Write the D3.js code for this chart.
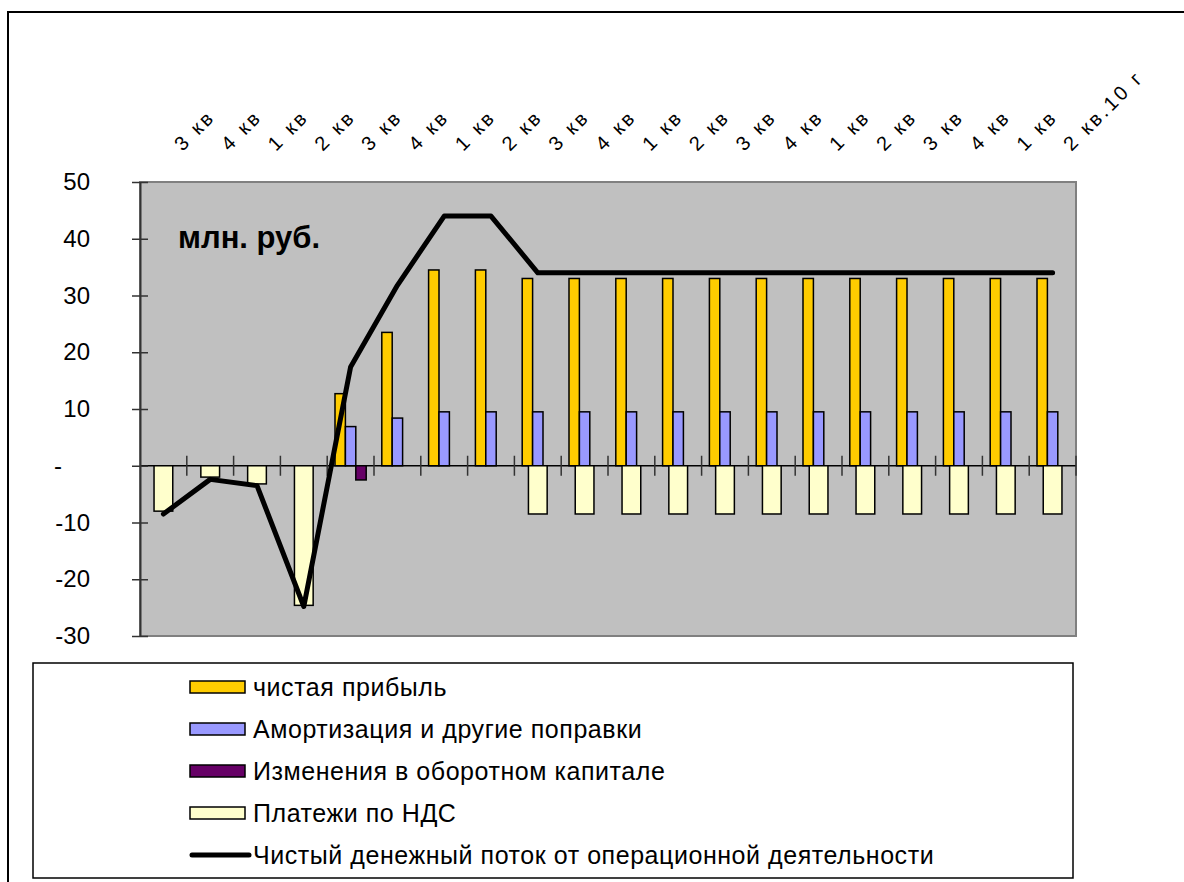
<!DOCTYPE html>
<html>
<head>
<meta charset="utf-8">
<script src="https://cdn.jsdelivr.net/npm/d3@7"></script>
<style>
  html, body { margin: 0; padding: 0; background: #fff; }
  svg { display: block; font-family: "Liberation Sans", Arial, sans-serif; }
</style>
</head>
<body>
<svg id="chart" width="1184" height="882"></svg>
<script>
// ---- data ----
const categories = ["3 кв","4 кв","1 кв","2 кв","3 кв","4 кв","1 кв","2 кв","3 кв","4 кв",
                    "1 кв","2 кв","3 кв","4 кв","1 кв","2 кв","3 кв","4 кв","1 кв","2 кв.10 г"];
const netProfit   = [0, 0, 0, 0, 12.7, 23.5, 34.5, 34.5, 33, 33, 33, 33, 33, 33, 33, 33, 33, 33, 33, 33];
const amortization = [null, null, null, null, 6.9, 8.4, 9.5, 9.5, 9.5, 9.5, 9.5, 9.5, 9.5, 9.5, 9.5, 9.5, 9.5, 9.5, 9.5, 9.5];
const workingCapital = [null, null, null, null, -2.5, null, null, null, null, null, null, null, null, null, null, null, null, null, null, null];
const vatPayments = [-8, -2, -3.2, -24.6, null, null, null, null, -8.5, -8.5, -8.5, -8.5, -8.5, -8.5, -8.5, -8.5, -8.5, -8.5, -8.5, -8.5];
const netCashFlow = [-8.5, -2.4, -3.5, -24.8, 17.4, 31.8, 44, 44, 34, 34, 34, 34, 34, 34, 34, 34, 34, 34, 34, 34];
const yTicks = [-30, -20, -10, 0, 10, 20, 30, 40, 50];
const seriesNames = ["чистая прибыль", "Амортизация и другие поправки", "Изменения в оборотном капитале",
                     "Платежи по НДС", "Чистый денежный поток от операционной деятельности"];
const seriesColors = ["#FFCC00", "#9999FF", "#660066", "#FFFFCC", "#000000"];

// ---- layout ----
const svg = d3.select("#chart");
const plot = { left: 140, right: 1076, top: 182, bottom: 636 };

const x = d3.scaleBand().domain(d3.range(categories.length)).range([plot.left, plot.right]).padding(0);
const y = d3.scaleLinear().domain([-30, 50]).range([plot.bottom, plot.top]);
const inner = d3.scaleBand().domain([0, 1, 2]).range([0, x.bandwidth()]).paddingInner(0).paddingOuter(0.75);
const sec = d3.scaleBand().domain([0]).range([0, x.bandwidth()]).paddingInner(0).paddingOuter(0.75);

// outer chart border
svg.append("rect").attr("x", 8).attr("y", 12).attr("width", 1300).attr("height", 1000)
  .attr("fill", "#fff").attr("stroke", "#000").attr("stroke-width", 2);

// plot area
svg.append("rect").attr("x", plot.left).attr("y", plot.top)
  .attr("width", plot.right - plot.left).attr("height", plot.bottom - plot.top)
  .attr("fill", "#C0C0C0").attr("stroke", "#808080").attr("stroke-width", 2);

// zero line
svg.append("line").attr("x1", plot.left).attr("x2", plot.right)
  .attr("y1", y(0)).attr("y2", y(0)).attr("stroke", "#000").attr("stroke-width", 1.5);

// category ticks crossing zero line
svg.append("g").selectAll("line").data(d3.range(1, categories.length + 1)).join("line")
  .attr("x1", i => plot.left + i * x.step()).attr("x2", i => plot.left + i * x.step())
  .attr("y1", y(0) - 10).attr("y2", y(0) + 10)
  .attr("stroke", "#333").attr("stroke-width", 1.5);

// y axis
const yAxis = d3.axisLeft(y).tickValues(yTicks).tickSize(0).tickPadding(0)
  .tickFormat(d => d === 0 ? "-" : String(d));
const yg = svg.append("g").attr("transform", `translate(${plot.left},0)`).call(yAxis);
yg.select(".domain").attr("stroke", "#333").attr("stroke-width", 2);
yg.selectAll(".tick text").attr("font-size", 24).attr("fill", "#000")
  .attr("font-family", "'Liberation Sans', Arial, sans-serif")
  .attr("x", d => d === 0 ? -86 : -50)
  .attr("text-anchor", d => d === 0 ? "start" : "end");
yg.selectAll(".tick").append("line").attr("x1", -8).attr("x2", 8)
  .attr("stroke", "#333").attr("stroke-width", 1.5);

// primary bars
const primary = [netProfit, amortization, workingCapital];
primary.forEach((arr, s) => {
  svg.append("g").selectAll("rect")
    .data(arr.map((v, i) => ({ v, i })).filter(d => d.v !== null)).join("rect")
    .attr("x", d => x(d.i) + inner(s))
    .attr("width", inner.bandwidth())
    .attr("y", d => y(Math.max(0, d.v)))
    .attr("height", d => Math.abs(y(d.v) - y(0)))
    .attr("fill", seriesColors[s]).attr("stroke", "#000").attr("stroke-width", 1.5);
});

// secondary bars (VAT)
svg.append("g").selectAll("rect")
  .data(vatPayments.map((v, i) => ({ v, i })).filter(d => d.v !== null)).join("rect")
  .attr("x", d => x(d.i) + sec(0))
  .attr("width", sec.bandwidth())
  .attr("y", d => y(Math.max(0, d.v)))
  .attr("height", d => Math.abs(y(d.v) - y(0)))
  .attr("fill", seriesColors[3]).attr("stroke", "#000").attr("stroke-width", 1.5);

// line
const line = d3.line().x((d, i) => x(i) + x.bandwidth() / 2).y(d => y(d));
svg.append("path").datum(netCashFlow).attr("d", line)
  .attr("fill", "none").attr("stroke", "#000").attr("stroke-width", 5)
  .attr("stroke-linejoin", "round").attr("stroke-linecap", "round");

// category labels at top, rotated
svg.append("g").selectAll("text").data(categories).join("text")
  .attr("transform", (d, i) => `translate(${x(i) + x.bandwidth() / 2 + 19},152) rotate(-45)`)
  .attr("font-size", 20).attr("letter-spacing", 3).attr("fill", "#000")
  .text(d => d);

// unit label
svg.append("text").attr("x", 178).attr("y", 248).attr("font-size", 31).attr("font-weight", "bold")
  .text("млн. руб.");

// legend
const lg = svg.append("g");
lg.append("rect").attr("x", 33).attr("y", 663).attr("width", 1040).attr("height", 215)
  .attr("fill", "#fff").attr("stroke", "#000").attr("stroke-width", 1.5);
const legendY = d3.scalePoint().domain(d3.range(seriesNames.length)).range([687, 855]);
seriesNames.forEach((name, s) => {
  const cy = legendY(s);
  if (s < 4) {
    lg.append("rect").attr("x", 190).attr("y", cy - 6).attr("width", 55).attr("height", 12)
      .attr("fill", seriesColors[s]).attr("stroke", "#000").attr("stroke-width", 1.5);
  } else {
    lg.append("line").attr("x1", 192).attr("x2", 249).attr("y1", cy).attr("y2", cy)
      .attr("stroke", "#000").attr("stroke-width", 5).attr("stroke-linecap", "round");
  }
  lg.append("text").attr("x", 253).attr("y", cy).attr("dy", "0.35em")
    .attr("font-size", 25).attr("letter-spacing", 0.55).attr("fill", "#000").text(name);
});
</script>
</body>
</html>
